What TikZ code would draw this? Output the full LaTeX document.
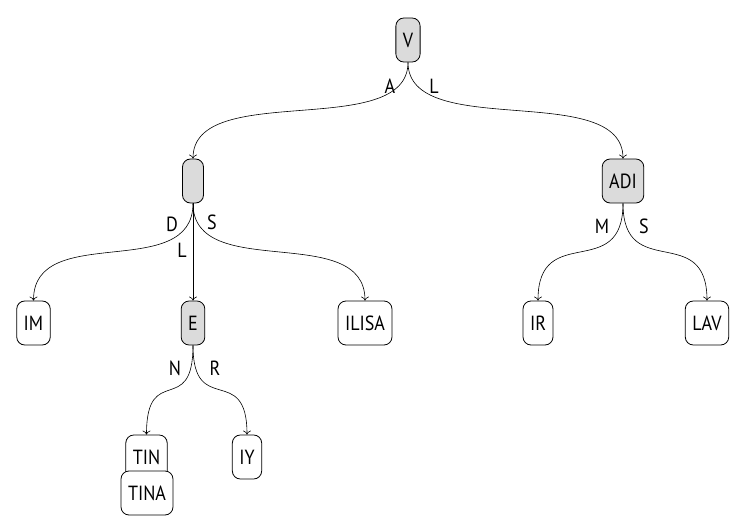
\documentclass[tikz,border=0pt]{standalone}
\usepackage{fontspec}
\setmainfont[FakeStretch=0.88]{PT Sans}
\usetikzlibrary{arrows.meta,calc}
\begin{document}
\begin{tikzpicture}[x=1pt,y=-1pt,
  every node/.style={font=\fontsize{20.5}{22}\selectfont},
  nd/.style={draw,line width=0.8pt,rounded corners=8pt,fill=white,minimum width=21pt,minimum height=44pt,inner xsep=7pt,inner ysep=0pt},
  gnd/.style={nd,fill=gray!28},
  lbl/.style={inner sep=0pt},
  edge/.style={line width=0.6pt,-{To[length=4pt,width=8pt]}},
  curvy/.style={to path={.. controls ($(\tikztostart)!0.82!(\tikztostart|-\tikztotarget)$) and ($(\tikztotarget)!0.82!(\tikztotarget|-\tikztostart)$) .. (\tikztotarget)}}
  ]
\useasboundingbox (0,0) rectangle (745,532);
\node[gnd] (V) at (408,40) {V};
\node[gnd] (X) at (193,181) {};
\node[gnd] (ADI) at (623,181) {ADI};
\node[nd] (IM) at (33.5,323) {IM};
\node[gnd] (E) at (193,323) {E};
\node[nd] (ILISA) at (365,323) {ILISA};
\node[nd] (IR) at (538,323) {IR};
\node[nd] (LAV) at (707,323) {LAV};
\node[nd] (TIN) at (146.5,457) {TIN};
\node[nd] (TINA) at (147,493) {TINA};
\node[nd] (IY) at (247,457) {IY};

\draw[edge] (V.south) to[curvy] (X.north);
\draw[edge] (V.south) to[curvy] (ADI.north);
\draw[edge] (X.south) to[curvy] (IM.north);
\draw[edge] (X.south) -- (E.north);
\draw[edge] (X.south) to[curvy] (ILISA.north);
\draw[edge] (E.south) to[curvy] (TIN.north);
\draw[edge] (E.south) to[curvy] (IY.north);
\draw[edge] (ADI.south) to[curvy] (IR.north);
\draw[edge] (ADI.south) to[curvy] (LAV.north);

\node[lbl] (lA) at (390,86) {A};
\node[lbl] (lL) at (434,86) {L};
\node[lbl] (lD) at (172,224) {D};
\node[lbl] (lS) at (212,222) {S};
\node[lbl] (lL2) at (182,250) {L};
\node[lbl] (lM) at (602,226) {M};
\node[lbl] (lS2) at (644,226) {S};
\node[lbl] (lN) at (175,368) {N};
\node[lbl] (lR) at (215,368) {R};
\end{tikzpicture}
\end{document}
